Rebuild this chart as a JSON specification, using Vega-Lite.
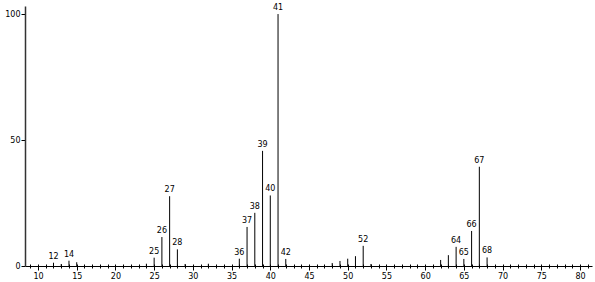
{
  "$schema": "https://vega.github.io/schema/vega-lite/v6.json",
  "width": 567,
  "height": 260,
  "autosize": "none",
  "padding": {"left": 25, "top": 6, "right": 3, "bottom": 16},
  "background": "white",
  "data": {"values": [
    {"mz": 12, "intensity": 1.3, "label": "12"},
    {"mz": 13, "intensity": 0.8, "label": null},
    {"mz": 14, "intensity": 2.1, "label": "14"},
    {"mz": 15, "intensity": 1.5, "label": null},
    {"mz": 24, "intensity": 0.9, "label": null},
    {"mz": 25, "intensity": 3.3, "label": "25"},
    {"mz": 26, "intensity": 11.5, "label": "26"},
    {"mz": 27, "intensity": 27.7, "label": "27"},
    {"mz": 28, "intensity": 6.6, "label": "28"},
    {"mz": 29, "intensity": 0.8, "label": null},
    {"mz": 32, "intensity": 0.9, "label": null},
    {"mz": 36, "intensity": 2.9, "label": "36"},
    {"mz": 37, "intensity": 15.5, "label": "37"},
    {"mz": 38, "intensity": 21.1, "label": "38"},
    {"mz": 39, "intensity": 45.7, "label": "39"},
    {"mz": 40, "intensity": 28.0, "label": "40"},
    {"mz": 41, "intensity": 100, "label": "41"},
    {"mz": 42, "intensity": 2.8, "label": "42"},
    {"mz": 48, "intensity": 1.2, "label": null},
    {"mz": 49, "intensity": 2.0, "label": null},
    {"mz": 50, "intensity": 2.9, "label": null},
    {"mz": 51, "intensity": 3.9, "label": null},
    {"mz": 52, "intensity": 8.0, "label": "52"},
    {"mz": 53, "intensity": 0.8, "label": null},
    {"mz": 62, "intensity": 2.4, "label": null},
    {"mz": 63, "intensity": 4.3, "label": null},
    {"mz": 64, "intensity": 7.6, "label": "64"},
    {"mz": 65, "intensity": 2.8, "label": "65"},
    {"mz": 66, "intensity": 13.9, "label": "66"},
    {"mz": 67, "intensity": 39.4, "label": "67"},
    {"mz": 68, "intensity": 3.4, "label": "68"}
  ]},
  "config": {
    "view": {"stroke": null},
    "axis": {
      "grid": false,
      "domainColor": "black",
      "tickColor": "black",
      "labelColor": "black",
      "labelFont": "DejaVu Sans",
      "labelFontSize": 8,
      "title": null
    }
  },
  "resolve": {"axis": {"x": "independent"}},
  "layer": [
    {
      "mark": {"type": "rule", "color": "black", "strokeWidth": 1},
      "encoding": {
        "x": {
          "field": "mz",
          "type": "quantitative",
          "scale": {"domain": [8.32, 81.55], "nice": false, "zero": false},
          "axis": {
            "orient": "bottom",
            "values": [10, 15, 20, 25, 30, 35, 40, 45, 50, 55, 60, 65, 70, 75, 80],
            "tickSize": 4,
            "labelPadding": 2,
            "domainWidth": 1
          }
        },
        "y": {
          "field": "intensity",
          "type": "quantitative",
          "scale": {"domain": [0, 103.2], "nice": false},
          "axis": {"values": [0, 50, 100], "tickSize": 4, "labelPadding": 1, "domainWidth": 1.5, "domainColor": "#333"}
        },
        "y2": {"datum": 0}
      }
    },
    {
      "transform": [{"filter": "datum.label != null"}],
      "mark": {"type": "text", "font": "DejaVu Sans", "fontSize": 8, "baseline": "bottom", "dy": -2, "color": "black"},
      "encoding": {
        "x": {
          "field": "mz",
          "type": "quantitative",
          "axis": {
            "orient": "bottom",
            "values": [9, 10, 11, 12, 13, 14, 15, 16, 17, 18, 19, 20, 21, 22, 23, 24, 25, 26, 27, 28, 29, 30, 31, 32, 33, 34, 35, 36, 37, 38, 39, 40, 41, 42, 43, 44, 45, 46, 47, 48, 49, 50, 51, 52, 53, 54, 55, 56, 57, 58, 59, 60, 61, 62, 63, 64, 65, 66, 67, 68, 69, 70, 71, 72, 73, 74, 75, 76, 77, 78, 79, 80, 81],
            "tickSize": 4,
            "offset": -2,
            "labels": false,
            "domain": false
          }
        },
        "y": {"field": "intensity", "type": "quantitative"},
        "text": {"field": "label"}
      }
    }
  ]
}
